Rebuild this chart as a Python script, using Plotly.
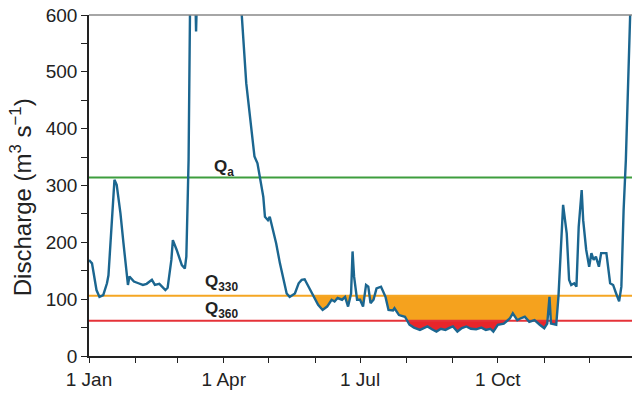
import pandas as pd
import plotly.graph_objects as go

# ---- data ----
day_of_year = [0, 2, 5, 7, 9.5, 12, 13, 15, 17, 18.5, 21, 23, 25, 26, 27, 30, 33, 36, 38.5, 42,
               44, 47, 51, 52.5, 55, 56, 58.5, 62, 64, 65, 66, 66.5, 67.5, 69, 70.5, 71.5, 72.5,
               76, 82, 90, 96, 100, 102, 105, 110.5, 112.5, 116.4, 117.5, 119.5, 120.7, 123, 125,
               127.5, 130, 132, 134, 137.5, 140, 142, 144, 146, 150, 153, 156, 159, 162, 164, 166,
               169, 171, 173, 175, 176, 177, 179, 181, 183, 185, 186.5, 188, 190, 192, 195, 198,
               200, 203, 204, 207, 211, 214, 217, 221, 224, 226, 229, 232, 235, 238, 241, 243,
               246, 249, 252, 255, 258.5, 262, 265, 268, 270, 273, 277, 281, 283, 286, 288, 291,
               294, 297.5, 301, 304, 306, 307.5, 308.5, 312, 313.5, 315, 316.6, 319, 320.6, 322,
               324, 325.5, 327, 329, 330, 332, 334, 335.5, 337, 338.5, 340.5, 342, 345.5, 348,
               350, 352, 354, 355.5, 357, 358.5, 359.5, 361.5, 362.5]
discharge = [169, 163, 116, 104, 107, 128, 142, 227, 310, 301, 251, 199, 151, 125, 140, 131, 128,
             125, 127, 134, 125, 127, 116, 120, 169, 204, 187, 160, 154, 175, 287, 345, 620, 760,
             700, 571, 680, 880, 980, 900, 820, 700, 600, 480, 351, 339, 280, 245, 239, 245, 222,
             198, 163, 134, 110, 104, 110, 128, 134, 135, 125, 104, 90, 81, 87, 99, 96, 102, 99,
             104, 87, 110, 184, 140, 99, 99, 87, 125, 122, 93, 99, 119, 122, 104, 81, 80, 84, 72,
             69, 55, 50, 46, 49, 52, 47, 43, 48, 46, 50, 52, 43, 49, 52, 48, 47, 50, 46, 48, 43,
             55, 57, 66, 75, 63, 66, 69, 60, 63, 55, 49, 57, 104, 57, 55, 105, 187, 266, 216, 134,
             125, 128, 122, 227, 292, 239, 187, 157, 181, 169, 175, 157, 181, 181, 128, 125, 110,
             96, 122, 257, 345, 450, 620, 700]
Q_a = 314
Q_330 = 106
Q_360 = 62
year_start = "2001-01-01"
x_end_day = 362.6

start = pd.Timestamp(year_start)
to_date = lambda d: start + pd.Timedelta(days=d)
dates = [to_date(d) for d in day_of_year]


def clipped_below(days, vals, thr):
    """Augment series with threshold crossings and clip at threshold (for deficit fill)."""
    xs, ys = [], []
    for i in range(len(days)):
        if i > 0:
            d0, v0, d1, v1 = days[i - 1], vals[i - 1], days[i], vals[i]
            if (v0 - thr) * (v1 - thr) < 0:
                dc = d0 + (thr - v0) * (d1 - d0) / (v1 - v0)
                xs.append(dc)
                ys.append(thr)
        xs.append(days[i])
        ys.append(min(vals[i], thr))
    return [to_date(d) for d in xs], ys


fig = go.Figure()

for thr, col in [(Q_330, "#F5A21E"), (Q_360, "#E8252B")]:
    fx, fy = clipped_below(day_of_year, discharge, thr)
    fig.add_trace(go.Scatter(x=fx, y=[thr] * len(fx), mode="lines",
                             line=dict(width=0), hoverinfo="skip", showlegend=False))
    fig.add_trace(go.Scatter(x=fx, y=fy, mode="lines", fill="tonexty", fillcolor=col,
                             line=dict(width=0), hoverinfo="skip", showlegend=False))

x_range = [start, to_date(x_end_day)]
for thr, col in [(Q_a, "#3E9E3E"), (Q_330, "#F5A623"), (Q_360, "#E53238")]:
    fig.add_trace(go.Scatter(x=x_range, y=[thr, thr], mode="lines",
                             line=dict(color=col, width=2), showlegend=False))

fig.add_trace(go.Scatter(x=dates, y=discharge, mode="lines",
                         line=dict(color="#1B6690", width=2.4), showlegend=False))

font_fam = "Liberation Sans, Arial, sans-serif"
fig.update_layout(
    width=633, height=395,
    margin=dict(l=89, r=1, t=15, b=39),
    paper_bgcolor="white", plot_bgcolor="white",
    font=dict(family=font_fam, color="#222222"),
    showlegend=False,
)
fig.update_xaxes(
    type="date", range=x_range,
    tick0=year_start, dtick="M3", tickformat="%-d %b",
    ticks="outside", ticklen=5, tickwidth=1.2, tickcolor="#222",
    tickfont=dict(size=19, family=font_fam, color="#222"),
    minor=dict(dtick="M1", ticks="outside", ticklen=5, tickwidth=1.2, tickcolor="#222"),
    showline=True, linecolor="#222", linewidth=1.5,
    showgrid=False, zeroline=False,
)
fig.update_yaxes(
    range=[0, 600], dtick=100,
    ticks="outside", ticklen=6, tickwidth=1.2, tickcolor="#222",
    tickfont=dict(size=19, family=font_fam, color="#222"),
    minor=dict(dtick=50, ticks="outside", ticklen=6, tickwidth=1.2, tickcolor="#222"),
    showline=True, linecolor="#222", linewidth=1.5,
    showgrid=False, zeroline=False,
)
fig.add_shape(type="line", xref="paper", yref="paper", x0=0, x1=1, y0=1, y1=1,
              line=dict(color="#888888", width=1.5), layer="above")

fig.add_annotation(text="Discharge (m<sup>3</sup> s<sup>−1</sup>)", textangle=-90,
                   xref="paper", yref="paper", x=-0.125, y=0.466,
                   xanchor="center", yanchor="middle", showarrow=False,
                   font=dict(size=24, family=font_fam, color="#222"))

lab_font = dict(size=17, family=font_fam, color="#222")
fig.add_annotation(text="<b>Q<sub>a</sub></b>", x=to_date(82), y=331, xref="x", yref="y",
                   xanchor="left", yanchor="middle", showarrow=False, font=lab_font)
fig.add_annotation(text="<b>Q<sub>330</sub></b>", x=to_date(76), y=128, xref="x", yref="y",
                   xanchor="left", yanchor="middle", showarrow=False, font=lab_font)
fig.add_annotation(text="<b>Q<sub>360</sub></b>", x=to_date(76), y=81, xref="x", yref="y",
                   xanchor="left", yanchor="middle", showarrow=False, font=lab_font)

fig.write_html("out.html")
